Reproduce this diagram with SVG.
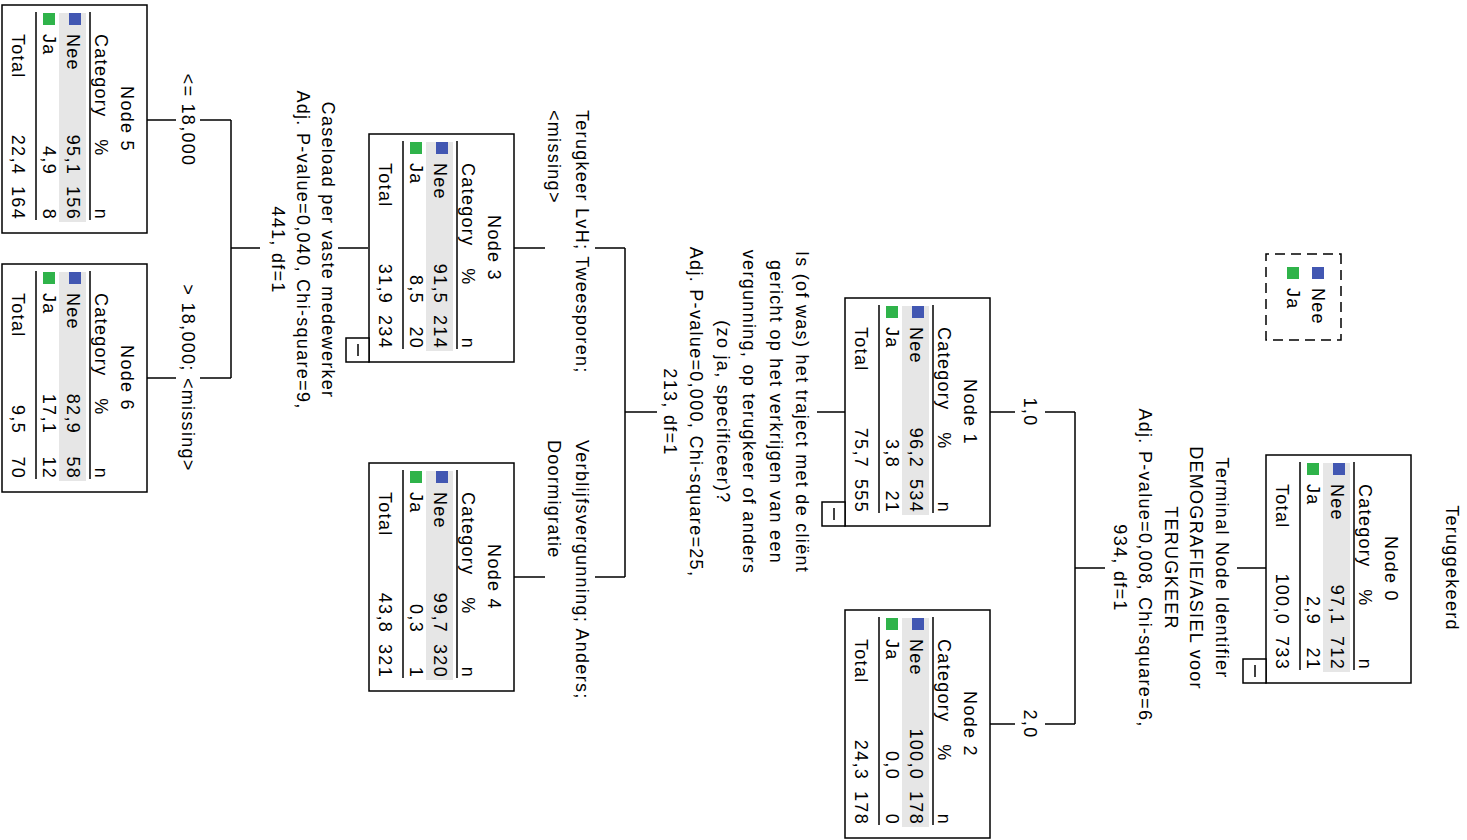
<svg xmlns="http://www.w3.org/2000/svg" width="1467" height="840" viewBox="0 0 1467 840">
<style>
.t{font-family:"Liberation Sans",Arial,sans-serif;font-size:18px;letter-spacing:1.3px;fill:#000}
.m{text-anchor:middle}
.e{text-anchor:end}
.box{fill:#fff;stroke:#000;stroke-width:1.5}
.rule{stroke:#000;stroke-width:1.5}
.band{fill:#e6e6e6}
.nee{fill:#4257b2}
.ja{fill:#2fb34a}
.c{stroke:#000;stroke-width:1.5;fill:none}
.btn{fill:#fff;stroke:#000;stroke-width:1.5}
.leg{fill:none;stroke:#000;stroke-width:1.5;stroke-dasharray:10 6}
</style>
<rect x="0" y="0" width="1467" height="840" fill="#fff"/>
<g transform="translate(1467,0) rotate(90)">
<text class="t m" x="568" y="21">Teruggekeerd</text>
<g id="legend">
<rect class="leg" x="254" y="126" width="86" height="75"/>
<rect class="nee" x="267" y="143" width="12" height="12"/>
<text class="t" x="288" y="155">Nee</text>
<rect class="ja" x="267" y="168" width="12" height="12"/>
<text class="t" x="288" y="180">Ja</text>
</g>
<g id="connectors">
<path class="c" d="M568 201V230M568 362V392M412 392H724M412 392V422M412 452V477M724 392V422M724 452V477"/>
<path class="c" d="M412 622V650M412 810V842M248 842H577M248 842V872M248 922V953M577 842V872M577 922V953"/>
<path class="c" d="M248 1099V1129M248 1207V1236M120 1236H378M120 1236V1267M120 1291V1320M378 1236V1267M378 1291V1320"/>
<text class="t m" x="568" y="251">Terminal Node Identifier</text>
<text class="t m" x="568" y="277">DEMOGRAFIE/ASIEL voor</text>
<text class="t m" x="568" y="302">TERUGKEER</text>
<text class="t m" x="568" y="328">Adj. P-value=0,008, Chi-square=6,</text>
<text class="t m" x="568" y="353">934, df=1</text>
<text class="t m" x="412" y="443">1,0</text>
<text class="t m" x="724" y="443">2,0</text>
<text class="t m" x="412" y="671">Is (of was) het traject met de cliënt</text>
<text class="t m" x="412" y="697">gericht op het verkrijgen van een</text>
<text class="t m" x="412" y="724">vergunning, op terugkeer of anders</text>
<text class="t m" x="412" y="750">(zo ja, specificeer)?</text>
<text class="t m" x="412" y="777">Adj. P-value=0,000, Chi-square=25,</text>
<text class="t m" x="412" y="803">213, df=1</text>
<text class="t" x="110" y="891">Terugkeer LvH; Tweesporen;</text>
<text class="t" x="110" y="919">&lt;missing&gt;</text>
<text class="t" x="440" y="891">Verblijfsvergunning; Anders;</text>
<text class="t" x="440" y="919">Doormigratie</text>
<text class="t m" x="250" y="1145">Caseload per vaste medewerker</text>
<text class="t m" x="250" y="1170">Adj. P-value=0,040, Chi-square=9,</text>
<text class="t m" x="250" y="1195">441, df=1</text>
<text class="t m" x="120" y="1285">&lt;= 18,000</text>
<text class="t m" x="378" y="1285">&gt; 18,000; &lt;missing&gt;</text>
</g>
<g id="node0" transform="translate(455,56)">
<rect class="box" width="228" height="145"/>
<text class="t m" x="114" y="26">Node 0</text>
<text class="t" x="29" y="52">Category</text><text class="t m" x="143" y="52">%</text><text class="t e" x="215" y="52">n</text>
<line class="rule" x1="7" y1="57" x2="215" y2="57"/>
<rect class="band" x="8" y="61" width="209" height="27"/>
<rect class="nee" x="8" y="66" width="12" height="12"/>
<text class="t" x="29" y="80">Nee</text><text class="t e" x="170" y="80">97,1</text><text class="t e" x="215" y="80">712</text>
<rect class="ja" x="8" y="92" width="12" height="12"/>
<text class="t" x="29" y="104">Ja</text><text class="t e" x="170" y="104">2,9</text><text class="t e" x="215" y="104">21</text>
<line class="rule" x1="7" y1="111" x2="215" y2="111"/>
<text class="t" x="29" y="135">Total</text><text class="t e" x="170" y="135">100,0</text><text class="t e" x="215" y="135">733</text>
<rect class="btn" x="204" y="145" width="24" height="23"/>
<line class="rule" x1="210" y1="156" x2="222" y2="156"/>
</g>
<g id="node1" transform="translate(298,477)">
<rect class="box" width="228" height="145"/>
<text class="t m" x="114" y="26">Node 1</text>
<text class="t" x="29" y="52">Category</text><text class="t m" x="143" y="52">%</text><text class="t e" x="215" y="52">n</text>
<line class="rule" x1="7" y1="57" x2="215" y2="57"/>
<rect class="band" x="8" y="61" width="209" height="27"/>
<rect class="nee" x="8" y="66" width="12" height="12"/>
<text class="t" x="29" y="80">Nee</text><text class="t e" x="170" y="80">96,2</text><text class="t e" x="215" y="80">534</text>
<rect class="ja" x="8" y="92" width="12" height="12"/>
<text class="t" x="29" y="104">Ja</text><text class="t e" x="170" y="104">3,8</text><text class="t e" x="215" y="104">21</text>
<line class="rule" x1="7" y1="111" x2="215" y2="111"/>
<text class="t" x="29" y="135">Total</text><text class="t e" x="170" y="135">75,7</text><text class="t e" x="215" y="135">555</text>
<rect class="btn" x="204" y="145" width="24" height="23"/>
<line class="rule" x1="210" y1="156" x2="222" y2="156"/>
</g>
<g id="node2" transform="translate(610,477)">
<rect class="box" width="228" height="145"/>
<text class="t m" x="114" y="26">Node 2</text>
<text class="t" x="29" y="52">Category</text><text class="t m" x="143" y="52">%</text><text class="t e" x="215" y="52">n</text>
<line class="rule" x1="7" y1="57" x2="215" y2="57"/>
<rect class="band" x="8" y="61" width="209" height="27"/>
<rect class="nee" x="8" y="66" width="12" height="12"/>
<text class="t" x="29" y="80">Nee</text><text class="t e" x="170" y="80">100,0</text><text class="t e" x="215" y="80">178</text>
<rect class="ja" x="8" y="92" width="12" height="12"/>
<text class="t" x="29" y="104">Ja</text><text class="t e" x="170" y="104">0,0</text><text class="t e" x="215" y="104">0</text>
<line class="rule" x1="7" y1="111" x2="215" y2="111"/>
<text class="t" x="29" y="135">Total</text><text class="t e" x="170" y="135">24,3</text><text class="t e" x="215" y="135">178</text>
</g>
<g id="node3" transform="translate(134,953)">
<rect class="box" width="228" height="145"/>
<text class="t m" x="114" y="26">Node 3</text>
<text class="t" x="29" y="52">Category</text><text class="t m" x="143" y="52">%</text><text class="t e" x="215" y="52">n</text>
<line class="rule" x1="7" y1="57" x2="215" y2="57"/>
<rect class="band" x="8" y="61" width="209" height="27"/>
<rect class="nee" x="8" y="66" width="12" height="12"/>
<text class="t" x="29" y="80">Nee</text><text class="t e" x="170" y="80">91,5</text><text class="t e" x="215" y="80">214</text>
<rect class="ja" x="8" y="92" width="12" height="12"/>
<text class="t" x="29" y="104">Ja</text><text class="t e" x="170" y="104">8,5</text><text class="t e" x="215" y="104">20</text>
<line class="rule" x1="7" y1="111" x2="215" y2="111"/>
<text class="t" x="29" y="135">Total</text><text class="t e" x="170" y="135">31,9</text><text class="t e" x="215" y="135">234</text>
<rect class="btn" x="204" y="145" width="24" height="23"/>
<line class="rule" x1="210" y1="156" x2="222" y2="156"/>
</g>
<g id="node4" transform="translate(463,953)">
<rect class="box" width="228" height="145"/>
<text class="t m" x="114" y="26">Node 4</text>
<text class="t" x="29" y="52">Category</text><text class="t m" x="143" y="52">%</text><text class="t e" x="215" y="52">n</text>
<line class="rule" x1="7" y1="57" x2="215" y2="57"/>
<rect class="band" x="8" y="61" width="209" height="27"/>
<rect class="nee" x="8" y="66" width="12" height="12"/>
<text class="t" x="29" y="80">Nee</text><text class="t e" x="170" y="80">99,7</text><text class="t e" x="215" y="80">320</text>
<rect class="ja" x="8" y="92" width="12" height="12"/>
<text class="t" x="29" y="104">Ja</text><text class="t e" x="170" y="104">0,3</text><text class="t e" x="215" y="104">1</text>
<line class="rule" x1="7" y1="111" x2="215" y2="111"/>
<text class="t" x="29" y="135">Total</text><text class="t e" x="170" y="135">43,8</text><text class="t e" x="215" y="135">321</text>
</g>
<g id="node5" transform="translate(5,1320)">
<rect class="box" width="228" height="145"/>
<text class="t m" x="114" y="26">Node 5</text>
<text class="t" x="29" y="52">Category</text><text class="t m" x="143" y="52">%</text><text class="t e" x="215" y="52">n</text>
<line class="rule" x1="7" y1="57" x2="215" y2="57"/>
<rect class="band" x="8" y="61" width="209" height="27"/>
<rect class="nee" x="8" y="66" width="12" height="12"/>
<text class="t" x="29" y="80">Nee</text><text class="t e" x="170" y="80">95,1</text><text class="t e" x="215" y="80">156</text>
<rect class="ja" x="8" y="92" width="12" height="12"/>
<text class="t" x="29" y="104">Ja</text><text class="t e" x="170" y="104">4,9</text><text class="t e" x="215" y="104">8</text>
<line class="rule" x1="7" y1="111" x2="215" y2="111"/>
<text class="t" x="29" y="135">Total</text><text class="t e" x="170" y="135">22,4</text><text class="t e" x="215" y="135">164</text>
</g>
<g id="node6" transform="translate(264,1320)">
<rect class="box" width="228" height="145"/>
<text class="t m" x="114" y="26">Node 6</text>
<text class="t" x="29" y="52">Category</text><text class="t m" x="143" y="52">%</text><text class="t e" x="215" y="52">n</text>
<line class="rule" x1="7" y1="57" x2="215" y2="57"/>
<rect class="band" x="8" y="61" width="209" height="27"/>
<rect class="nee" x="8" y="66" width="12" height="12"/>
<text class="t" x="29" y="80">Nee</text><text class="t e" x="170" y="80">82,9</text><text class="t e" x="215" y="80">58</text>
<rect class="ja" x="8" y="92" width="12" height="12"/>
<text class="t" x="29" y="104">Ja</text><text class="t e" x="170" y="104">17,1</text><text class="t e" x="215" y="104">12</text>
<line class="rule" x1="7" y1="111" x2="215" y2="111"/>
<text class="t" x="29" y="135">Total</text><text class="t e" x="170" y="135">9,5</text><text class="t e" x="215" y="135">70</text>
</g>
</g>
</svg>
